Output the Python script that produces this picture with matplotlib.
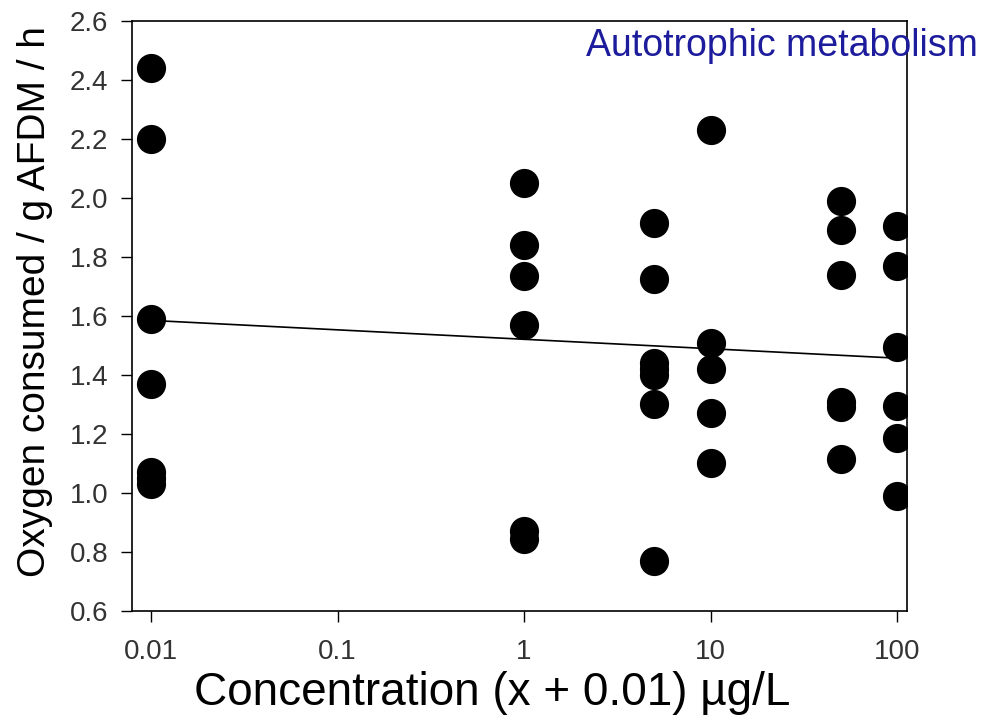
import numpy as np
import matplotlib.pyplot as plt

plt.rcParams['font.family'] = ['Liberation Sans', 'DejaVu Sans']

# concentration groups (x + 0.01) and measured values
conc = [0.01] * 7 + [1] * 6 + [5] * 7 + [10] * 5 + [50] * 6 + [100] * 6
oxygen = [2.44, 2.20, 1.59, 1.37, 1.07, 1.03, 1.05,
          2.05, 1.84, 1.735, 1.57, 0.87, 0.845,
          1.915, 1.725, 1.44, 1.42, 1.40, 1.30, 0.77,
          2.23, 1.51, 1.42, 1.27, 1.10,
          1.99, 1.89, 1.74, 1.31, 1.29, 1.115,
          1.905, 1.77, 1.495, 1.295, 1.185, 0.99]

# regression line end points
fit_x = [0.01, 100]
fit_y = [1.585, 1.457]

yticks = np.arange(0.6, 2.61, 0.2)

fig = plt.figure(figsize=(9.91, 7.21), dpi=100)
ax = fig.add_axes([0.1332, 0.1526, 0.782, 0.8183])

ax.plot(conc, oxygen, 'o', color='black', markersize=20, zorder=3)
ax.plot(fit_x, fit_y, '-', color='black', lw=1.2, zorder=2)

ax.set_xscale('log')
ax.set_xlim(0.0079, 113)
ax.set_ylim(0.6, 2.6)
ax.set_xticks([0.01, 0.1, 1, 10, 100])
ax.set_xticklabels(['0.01', '0.1', '1', '10', '100'])
ax.minorticks_off()
ax.set_yticks(yticks)
ax.set_yticklabels(['%.1f' % v for v in yticks])
ax.tick_params(direction='out', length=8, width=1, labelsize=20, colors='black',
               labelcolor='#333333')
ax.tick_params(axis='y', pad=9)
ax.tick_params(axis='x', pad=12)
for s in ax.spines.values():
    s.set_linewidth(1.2)

ax.set_xlabel('Concentration (x + 0.01) \u00b5g/L', fontsize=33)
ax.xaxis.label.set_va('center')
ax.xaxis.set_label_coords(0.465, -0.139)
ax.set_ylabel('Oxygen consumed / g AFDM / h', fontsize=28)
ax.yaxis.label.set_va('center')
ax.yaxis.set_label_coords(-0.125, 0.524)
fig.text(0.987, 0.923, 'Autotrophic metabolism', ha='right', va='baseline',
         fontsize=27, color='#1c1c9c')

fig.savefig('out.png', dpi=100)
